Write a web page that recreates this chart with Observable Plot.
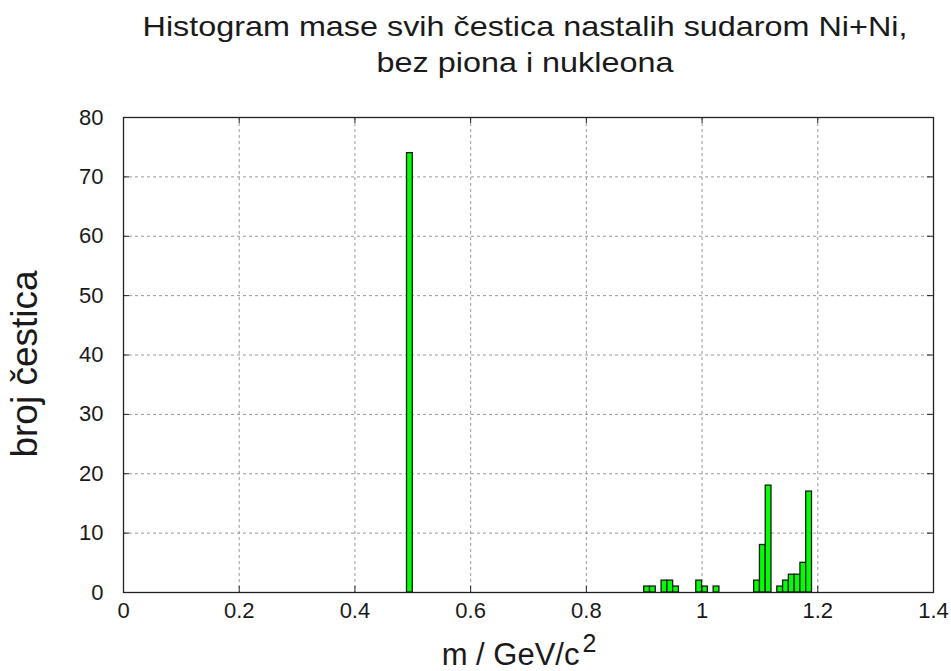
<!DOCTYPE html>
<html><head><meta charset="utf-8">
<script src="https://cdn.jsdelivr.net/npm/d3@7"></script>
<script src="https://cdn.jsdelivr.net/npm/@observablehq/plot@0.6"></script>
<style>
body{margin:0;background:#fff;font-family:"Liberation Sans",Arial,sans-serif;}
#wrap{position:relative;width:951px;height:671px;overflow:hidden;}
#title{position:absolute;left:0;top:8px;width:1050px;text-align:center;font-size:28.5px;line-height:36px;color:#1a1a1a;z-index:2;transform:scaleX(1.135);transform-origin:525px 0;}
#chart{position:absolute;left:0;top:0;}
</style></head><body>
<div id="wrap">
<div id="title">Histogram mase svih čestica nastalih sudarom Ni+Ni,<br>bez piona i nukleona</div>
<div id="chart"></div>
</div>
<script>
const binStart = [0.49, 0.90, 0.91, 0.93, 0.94, 0.95, 0.99, 1.00, 1.02, 1.09, 1.10, 1.11, 1.13, 1.14, 1.15, 1.16, 1.17, 1.18];
const counts   = [74,   1,    1,    2,    2,    1,    2,    1,    1,    2,    8,    18,   1,    2,    3,    3,    5,    17];
const binWidth = 0.01;
const xTicks = [0, 0.2, 0.4, 0.6, 0.8, 1.0, 1.2, 1.4];
const yTicks = [0, 10, 20, 30, 40, 50, 60, 70, 80];
const xGrid = [0.2, 0.4, 0.6, 0.8, 1.0, 1.2];
const yGrid = [10, 20, 30, 40, 50, 60, 70];
const xLabel = "m / GeV/c";
const yLabel = "broj čestica";

const bins = binStart.map((s, i) => ({x1: s, x2: s + binWidth, n: counts[i]}));

const W = 951, H = 671;
const mL = 123, mR = 18, mT = 117, mB = 79;
const plotH = H - mT - mB, plotW = W - mL - mR;
const T = 6;

const chart = Plot.plot({
  width: W, height: H,
  marginLeft: mL, marginRight: mR, marginTop: mT, marginBottom: mB,
  style: {fontFamily: "Liberation Sans, Arial, sans-serif", background: "#fff", overflow: "visible"},
  x: {domain: [0, 1.4], axis: null},
  y: {domain: [0, 80], axis: null},
  marks: [
    Plot.ruleX(xGrid, {stroke: "#999", strokeWidth: 1, strokeDasharray: "3,3"}),
    Plot.ruleY(yGrid, {stroke: "#999", strokeWidth: 1, strokeDasharray: "3,3"}),
    Plot.rectY(bins, {x1: "x1", x2: "x2", y: "n", fill: "#00ff00", stroke: "#1a1a1a", strokeWidth: 1.3, inset: 0}),
    Plot.tickX(xTicks, {x: d => d, stroke: "#222", strokeWidth: 1, insetTop: plotH - T}),
    Plot.tickX(xTicks, {x: d => d, stroke: "#222", strokeWidth: 1, insetBottom: plotH - T}),
    Plot.tickY(yTicks, {y: d => d, stroke: "#222", strokeWidth: 1, insetRight: plotW - T}),
    Plot.tickY(yTicks, {y: d => d, stroke: "#222", strokeWidth: 1, insetLeft: plotW - T}),
    Plot.frame({stroke: "#222", strokeWidth: 1.3}),
    Plot.axisX(xTicks, {tickSize: 0, tickPadding: 10, fontSize: 22, fill: "#1a1a1a", tickFormat: d => String(d), label: null}),
    Plot.axisY(yTicks, {tickSize: 0, tickPadding: 20, fontSize: 22, fill: "#1a1a1a", tickFormat: d => String(d), label: null})
  ]
});
document.getElementById("chart").appendChild(chart);

const svg = d3.select(chart);
const xl = svg.append("text")
  .attr("x", 519).attr("y", 665)
  .attr("text-anchor", "middle")
  .attr("font-size", 31).attr("fill", "#1a1a1a")
  .attr("font-family", "Liberation Sans, Arial, sans-serif");
xl.append("tspan").text(xLabel);
xl.append("tspan").attr("dy", -13).attr("font-size", 25).attr("dx", 3).text("2");

svg.append("text")
  .attr("transform", "translate(37,364) rotate(-90)")
  .attr("text-anchor", "middle")
  .attr("font-size", 37).attr("fill", "#1a1a1a")
  .attr("font-family", "Liberation Sans, Arial, sans-serif")
  .text(yLabel);
</script>
</body></html>
